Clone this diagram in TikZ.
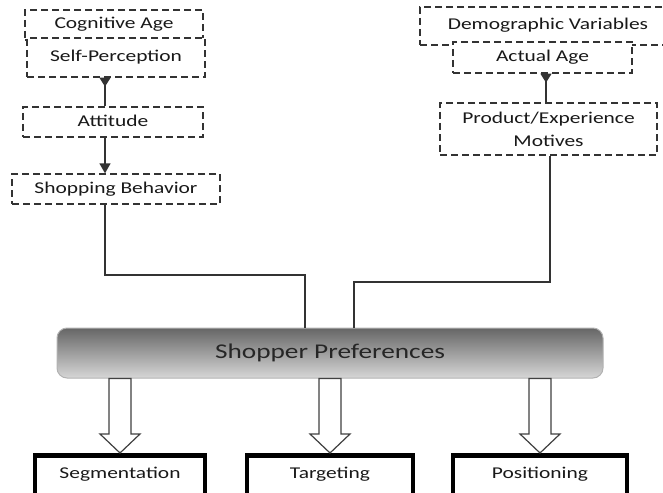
\documentclass[tikz,border=0pt]{standalone}
\usepackage{fontspec}
\setmainfont[FakeStretch=1.3]{Carlito}
\usetikzlibrary{calc}
\usetikzlibrary{arrows.meta}
\tikzset{dashbox/.style={draw=black!80,dash pattern=on 7pt off 4pt,line width=1.3pt,fill=white,
                         text=black!90,inner sep=0pt,text height=12pt,text depth=4pt,align=center,
                         font=\fontsize{16.5}{22}\selectfont},
         stpbox/.style={draw=black,line width=4.5pt,anchor=north,inner xsep=0pt,inner ysep=0pt,
                        text height=23pt,text depth=40pt,text=black!90,font=\fontsize{16.5}{19}\selectfont},
         prefbox/.style={rounded corners=10pt,draw=black!30,line width=1pt,top color=black!60,
                         bottom color=black!16,text=black!85,font=\fontsize{21}{24}\selectfont},
         link/.style={draw=black!80,line width=1.3pt},
         fatarrow/.style={draw=black!75,line width=1.2pt,fill=white}}

\begin{document}
\begin{tikzpicture}[x=1pt,y=-1pt]
\useasboundingbox (0,0) rectangle (663,492);

%%left column
\node[dashbox,minimum width=178pt,minimum height=30pt] (cog) at (114,25) {Cognitive Age};
\node[dashbox,minimum width=178pt,minimum height=39pt] (self) at (116,57.5) {Self-Perception};
\node[dashbox,minimum width=180pt,minimum height=30pt] (att) at (113,122) {Attitude};
\node[dashbox,minimum width=208pt,minimum height=30pt] (shop) at (116,189) {Shopping Behavior};

%%right column
\node[dashbox,minimum width=256pt,minimum height=38pt] (demo) at (548,26) {Demographic Variables};
\node[dashbox,minimum width=179pt,minimum height=31pt] (act) at (542.5,57.5) {Actual Age};
\node[dashbox,minimum width=217pt,minimum height=52pt,text height=34pt,text depth=0pt] (prod) at (548.5,129) {Product/Experience\\Motives};

%%middle and bottom
\node[prefbox,minimum width=546pt,minimum height=50pt] (pref) at (330,353) {Shopper Preferences};
\node[stpbox,minimum width=170pt] (seg) at (120,453) {Segmentation};
\node[stpbox,minimum width=166pt] (targ) at (330,453) {Targeting};
\node[stpbox,minimum width=174pt] (pos) at (540,453) {Positioning};

\coordinate (jl) at (305,275);
\coordinate (jr) at (354,282);

\draw[link,{Triangle[reversed,length=9pt,width=11pt]}-] ([xshift=-11pt]self.south) -- ([xshift=-8pt]att.north);
\draw[link,-{Triangle[length=10pt,width=11pt]}] ([xshift=-8pt]att.south) -- ([xshift=-11pt]shop.north);
\draw[link] ([xshift=-11pt]shop.south) |- (jl) -- (jl |- pref.north);
\draw[link,{Triangle[reversed,length=9pt,width=11pt]}-] ([xshift=3.5pt]act.south) -- ([xshift=-2.5pt]prod.north);
\draw[link] ([xshift=1.5pt]prod.south) |- (jr) -- (jr |- pref.north);

\foreach \b in {seg,targ,pos}
  \draw[fatarrow] (\b.north) -- ++(-20,-19) -- ++(9,0) -- ($(\b.north|-pref.south)+(-11,0)$)
    -- ++(22,0) -- ($(\b.north)+(11,-19)$) -- ++(9,0) -- cycle;

\end{tikzpicture}
\end{document}
